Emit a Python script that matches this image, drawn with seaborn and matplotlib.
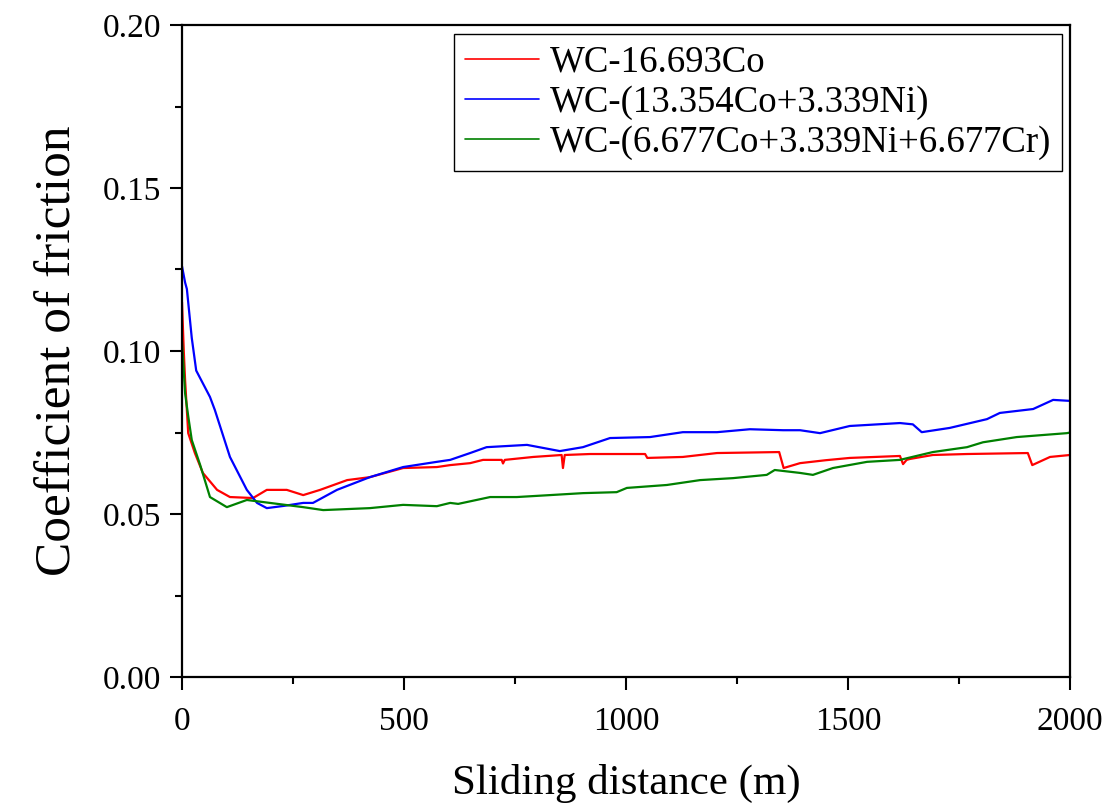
import matplotlib
matplotlib.use("Agg")
import matplotlib.pyplot as plt
import seaborn as sns
from matplotlib.ticker import MultipleLocator, FormatStrFormatter

# ---- data ----
labels = ["WC-16.693Co", "WC-(13.354Co+3.339Ni)", "WC-(6.677Co+3.339Ni+6.677Cr)"]
colors = ["#ff0000", "#0000ff", "#008000"]

red_x = [0, 4, 7, 14, 29, 47, 79, 108, 160, 191, 236, 273, 311, 372, 423, 498, 574, 604,
         649, 678, 720, 723, 727, 791, 855, 858, 862, 919, 1043, 1048, 1128, 1205, 1345,
         1355, 1392, 1450, 1504, 1617, 1624, 1632, 1640, 1691, 1768, 1905, 1915, 1955, 2000]
red_y = [0.115, 0.100, 0.091, 0.0748, 0.0687, 0.0626, 0.0574, 0.0552, 0.0549, 0.0574, 0.0574,
         0.0558, 0.0574, 0.0604, 0.0613, 0.0641, 0.0644, 0.0650, 0.0656, 0.0666, 0.0666, 0.0655,
         0.0666, 0.0675, 0.0681, 0.0641, 0.0681, 0.0684, 0.0684, 0.0672, 0.0675, 0.0687, 0.0690,
         0.0641, 0.0656, 0.0665, 0.0672, 0.0678, 0.0653, 0.0666, 0.0669, 0.0681, 0.0684, 0.0687,
         0.0650, 0.0675, 0.0681]

blue_x = [0, 7, 11, 22, 32, 63, 74, 108, 146, 169, 191, 230, 273, 295, 349, 423, 498, 574,
          604, 649, 686, 777, 851, 903, 964, 1054, 1128, 1205, 1279, 1354, 1392, 1437, 1504,
          1617, 1646, 1666, 1729, 1813, 1842, 1917, 1962, 2000]
blue_y = [0.126, 0.121, 0.119, 0.104, 0.094, 0.0859, 0.0819, 0.0675, 0.0574, 0.0534, 0.0518,
          0.0525, 0.0534, 0.0534, 0.0574, 0.0613, 0.0644, 0.0660, 0.0666, 0.0687, 0.0705, 0.0712,
          0.0693, 0.0705, 0.0733, 0.0736, 0.0751, 0.0751, 0.0760, 0.0757, 0.0757, 0.0748, 0.0770,
          0.0779, 0.0775, 0.0751, 0.0764, 0.0791, 0.0810, 0.0822, 0.0850, 0.0847]

green_x = [0, 7, 14, 22, 41, 63, 101, 146, 198, 273, 318, 423, 498, 574, 604, 622, 694, 754,
           829, 903, 979, 1002, 1092, 1167, 1241, 1317, 1335, 1392, 1421, 1466, 1543, 1617,
           1691, 1768, 1804, 1880, 1993, 2000]
green_y = [0.103, 0.087, 0.080, 0.0727, 0.0650, 0.0552, 0.0521, 0.0543, 0.0534, 0.0521, 0.0512,
           0.0518, 0.0528, 0.0524, 0.0534, 0.0531, 0.0552, 0.0552, 0.0558, 0.0564, 0.0567, 0.0580,
           0.0589, 0.0604, 0.0610, 0.0620, 0.0635, 0.0626, 0.0620, 0.0641, 0.0660, 0.0666, 0.0690,
           0.0705, 0.0720, 0.0736, 0.0748, 0.0750]

xticks = [0, 500, 1000, 1500, 2000]
yticks = [0.00, 0.05, 0.10, 0.15, 0.20]

# ---- style ----
sns.set_style("ticks")
plt.rcParams["font.family"] = ["Liberation Serif", "DejaVu Serif"]
plt.rcParams["text.color"] = "black"
plt.rcParams["axes.labelcolor"] = "black"

fig = plt.figure(figsize=(11.16, 8.10), dpi=100)
ax = fig.add_axes([182 / 1116, 1 - 677 / 810, 888 / 1116, 652 / 810])

series = [(red_x, red_y), (blue_x, blue_y), (green_x, green_y)]
for (xs, ys), lab, col in zip(series, labels, colors):
    sns.lineplot(x=xs, y=ys, ax=ax, color=col, linewidth=1.6, label=lab, sort=False)

ax.set_xlim(0, 2000)
ax.set_ylim(0, 0.20)
ax.set_xticks(xticks)
ax.set_yticks(yticks)
ax.xaxis.set_minor_locator(MultipleLocator(250))
ax.yaxis.set_minor_locator(MultipleLocator(0.025))
ax.yaxis.set_major_formatter(FormatStrFormatter("%.2f"))

for s in ax.spines.values():
    s.set_visible(True)
    s.set_linewidth(1.6)
    s.set_color("black")

ax.tick_params(axis="both", which="major", direction="out", length=9, width=1.5,
               labelsize=24, colors="black", pad=6, top=False, right=False)
ax.tick_params(axis="both", which="minor", direction="out", length=5, width=1.5,
               colors="black", top=False, right=False)
ax.tick_params(axis="x", which="major", pad=12)

ax.set_xlabel("Sliding distance (m)", fontsize=31, labelpad=20, color="black")
ax.set_ylabel("Coefficient of friction", fontsize=37, labelpad=15, color="black")

leg = ax.legend(loc="upper right", bbox_to_anchor=(0.991, 0.986), borderaxespad=0,
                fontsize=26.5, frameon=True, fancybox=False, framealpha=1,
                edgecolor="black", handlelength=2.0, handletextpad=0.3,
                labelspacing=0.15, borderpad=0.3)
leg.get_frame().set_linewidth(1.0)
for t in leg.get_texts():
    t.set_color("black")
for h in leg.get_lines():
    h.set_linewidth(1.2)

fig.savefig("out.png", dpi=100, facecolor="white")
